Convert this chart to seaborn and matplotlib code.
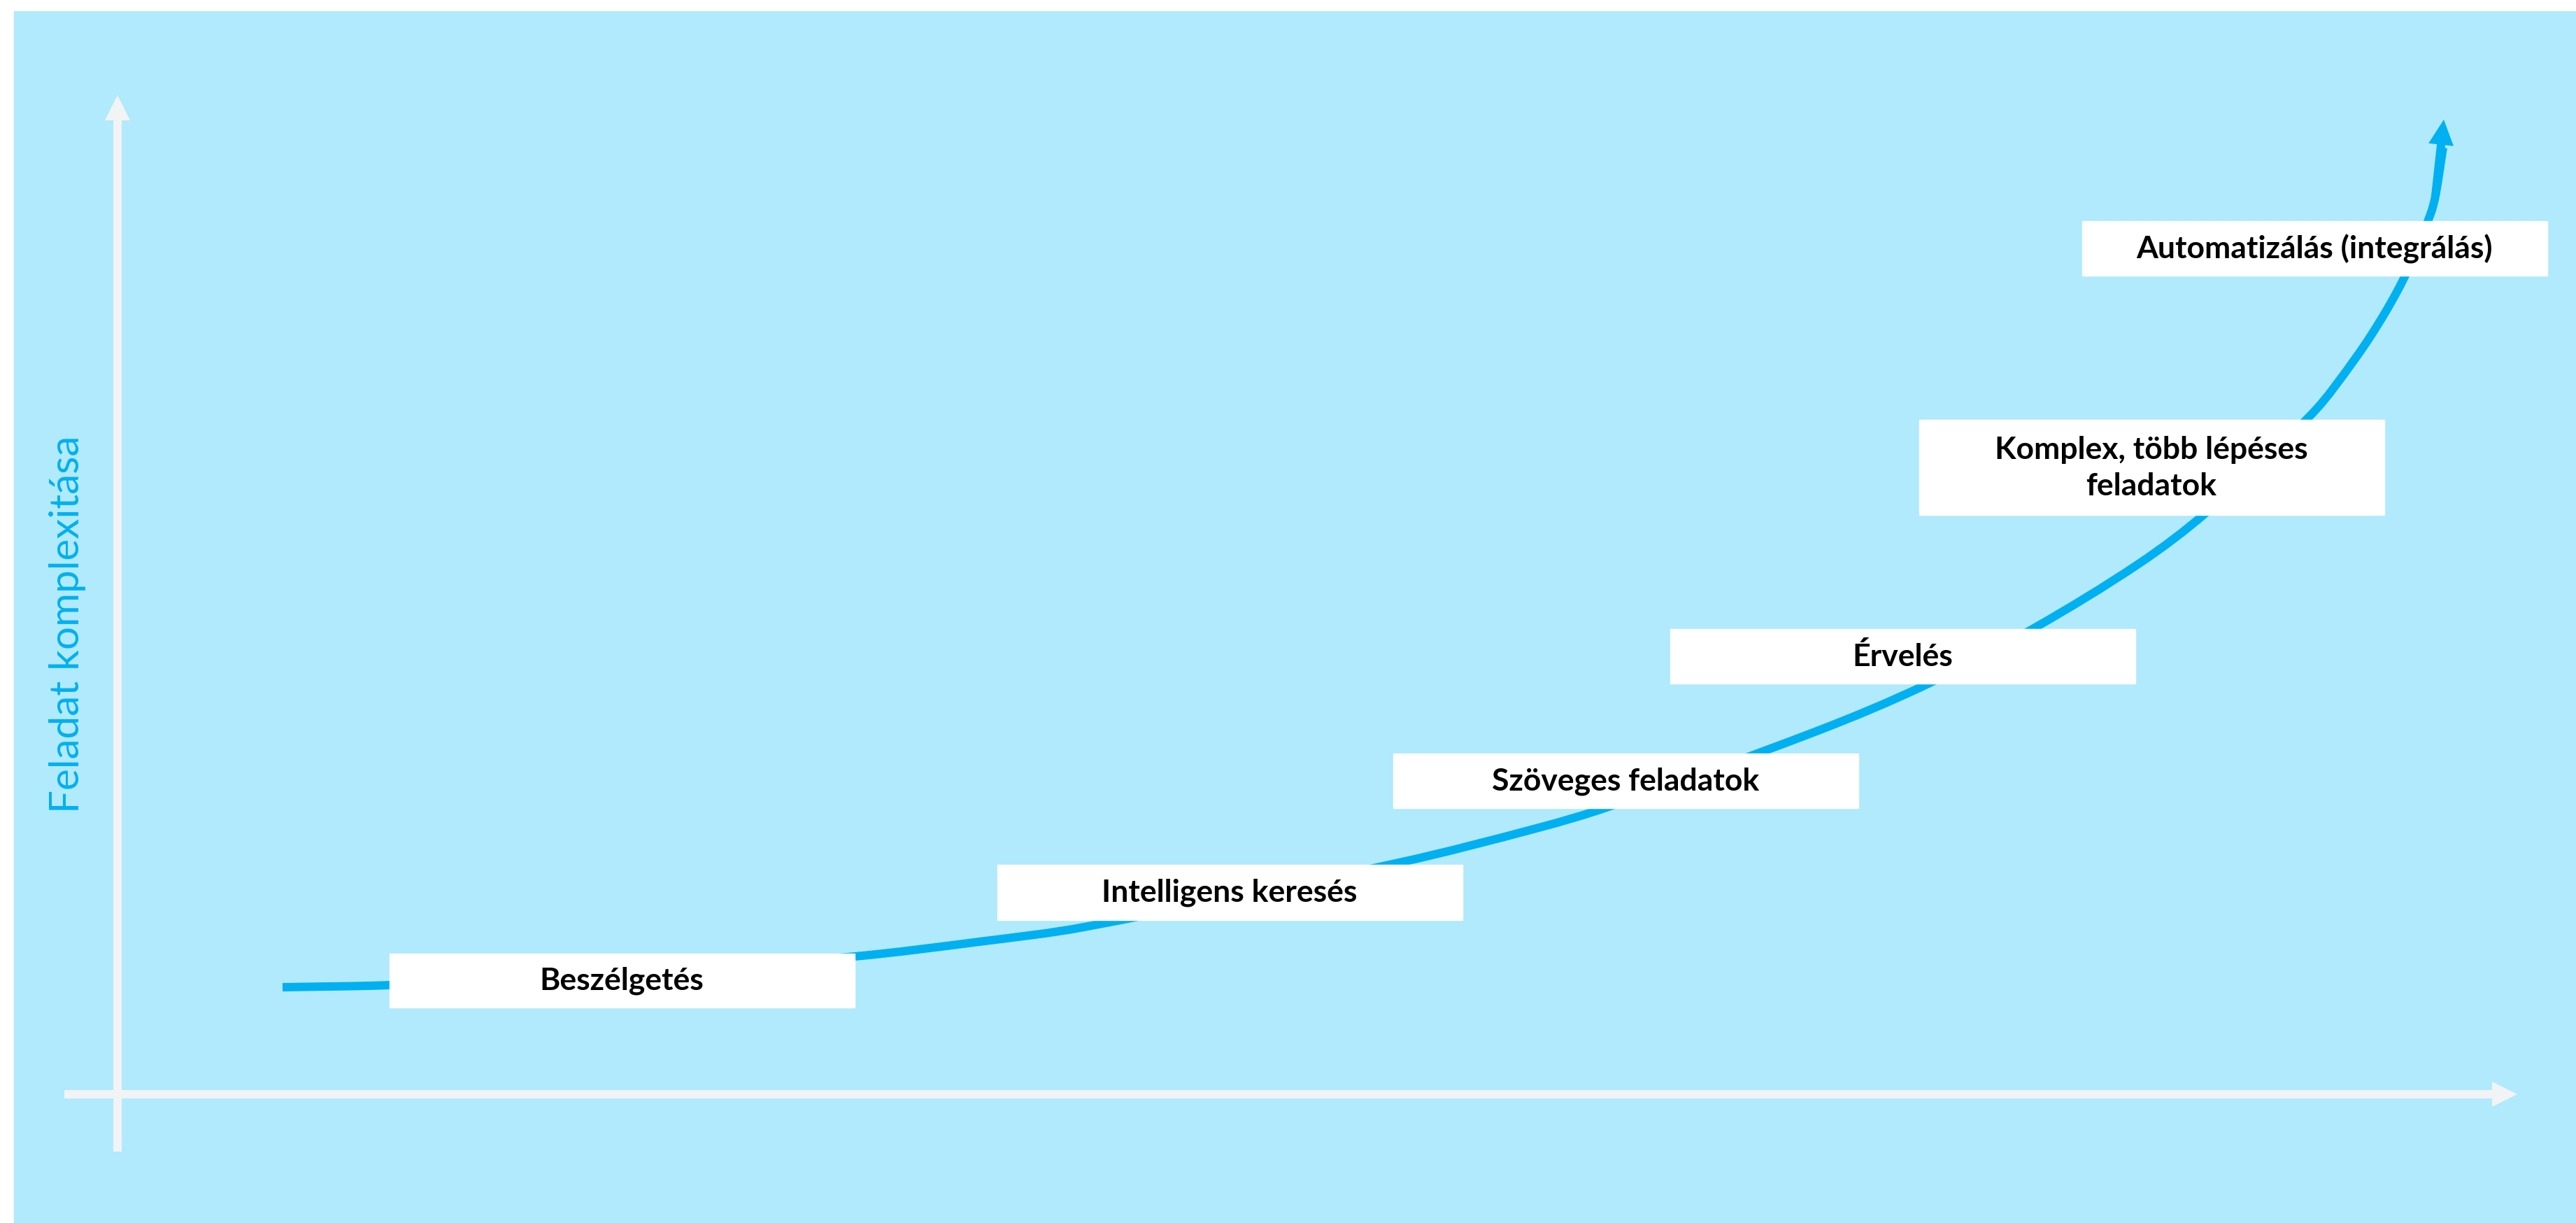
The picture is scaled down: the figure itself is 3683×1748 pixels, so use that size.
import matplotlib.pyplot as plt
import numpy as np
import pandas as pd
import seaborn as sb
from matplotlib.patches import Rectangle, PathPatch
from matplotlib.path import Path

# curve (pixel units of the 3683x1749 canvas, y down)
curve_x = [404, 557, 900, 1222, 1400, 1550, 2000, 2200, 2300, 2600, 2753, 2906,
           3059, 3155, 3305, 3367, 3410, 3443, 3475, 3482, 3493]
curve_y = [1412, 1409, 1393, 1368, 1347, 1326, 1234, 1184, 1154, 1045, 980, 900,
           806, 733, 593, 514, 448, 386, 307, 281, 212]
arrow_tip = (3494, 172)

stages = ["Beszélgetés", "Intelligens keresés", "Szöveges feladatok", "Érvelés",
          "Komplex, több lépéses\nfeladatok", "Automatizálás (integrálás)"]
box_cx = [889, 1758, 2324, 2720, 3076, 3309]
box_cy = [1402, 1276, 1117, 939, 669, 356]
box_h = [77, 79, 78, 78, 136, 78]
box_w = 665

ylabel = "Feladat komplexitása"

BG = "#B0EAFC"
AXC = "#F2F3F5"
BLUE = "#00B0F0"

sb.set_theme(style="white")
plt.rcParams["font.family"] = ["Lato", "DejaVu Sans"]

fig = plt.figure(figsize=(36.83, 17.49), dpi=100)
fig.patch.set_facecolor("white")
ax = fig.add_axes([0, 0, 1, 1])
ax.set_xlim(0, 3683)
ax.set_ylim(1749, 0)
ax.axis("off")

# background panel
ax.add_patch(Rectangle((20, 17), 3683, 1749, color=BG, zorder=0))

px = 0.72  # points per pixel at dpi 100

# axes arrows
arr = dict(width=12 * px, headwidth=36 * px, headlength=36 * px, shrink=0, color=AXC, lw=0)
ax.annotate("", xy=(168, 137), xytext=(168, 1647), arrowprops=arr, zorder=1)
ax.annotate("", xy=(3599, 1565), xytext=(92, 1565), arrowprops=arr, zorder=1)

# curve: smooth line through the read points (bezier with chord-length handles)
df = pd.DataFrame({"x": curve_x, "y": curve_y})
P = df[["x", "y"]].to_numpy(dtype=float)
n = len(P)
tang = []
for i in range(n):
    a = P[max(i - 1, 0)]
    b = P[min(i + 1, n - 1)]
    d = b - a
    tang.append(d / np.hypot(*d))
verts = [P[0]]
codes = [Path.MOVETO]
for i in range(n - 1):
    L = np.hypot(*(P[i + 1] - P[i])) / 3
    verts += [P[i] + tang[i] * L, P[i + 1] - tang[i + 1] * L, P[i + 1]]
    codes += [Path.CURVE4] * 3
ax.add_patch(PathPatch(Path(verts, codes), fill=False, edgecolor=BLUE,
                       lw=12 * px, capstyle="butt", zorder=2))
arr2 = dict(arr, color=BLUE)
ax.annotate("", xy=arrow_tip, xytext=(curve_x[-2], curve_y[-2]), arrowprops=arr2, zorder=2)

# stage boxes
for lab, cx, cy, h in zip(stages, box_cx, box_cy, box_h):
    ax.add_patch(Rectangle((cx - box_w / 2, cy - h / 2), box_w, h, color="white", zorder=3))
    ax.text(cx, cy, lab, ha="center", va="center", fontsize=32, fontweight="bold",
            color="black", linespacing=1.35, zorder=4)

ax.text(97, 892, ylabel, rotation=90, ha="center", va="center", fontsize=42,
        color=BLUE, zorder=4)

fig.savefig("out.png", dpi=100, facecolor="white")
